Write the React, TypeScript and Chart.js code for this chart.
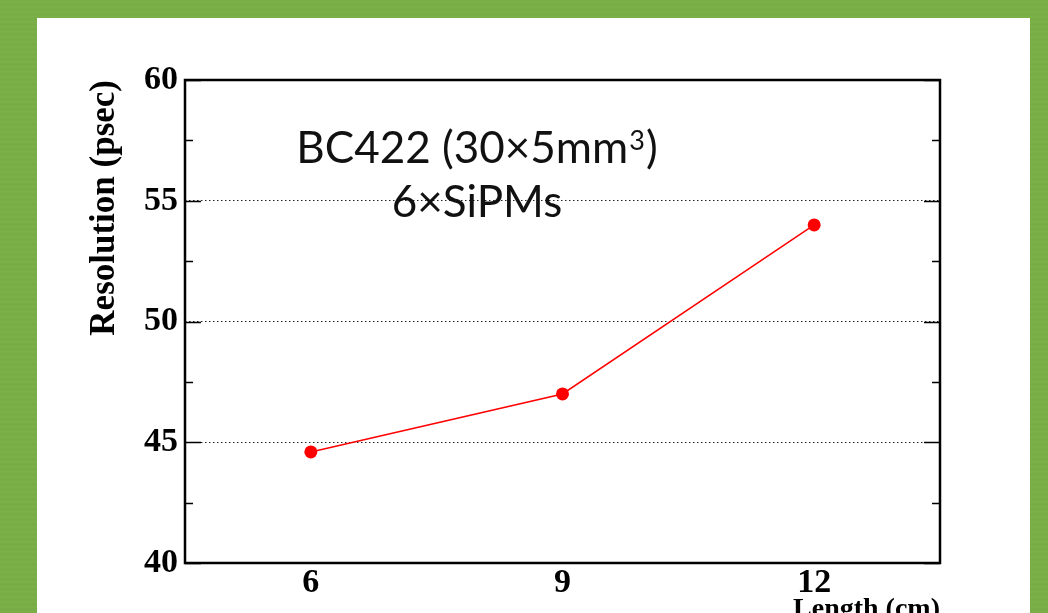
import { useEffect, useRef } from "react";
import { Chart, registerables } from "chart.js";

Chart.register(...registerables);

// Time resolution vs. bar length
const lengths = [6, 9, 12];
const resolutions = [44.6, 47.0, 54.0];

// Axis ticks
const xTickValues = [6, 9, 12];
const yTickValues = [40, 45, 50, 55, 60];
const yMinorTickValues = [42.5, 47.5, 52.5, 57.5];
const yGridValues = [45, 50, 55];

// Text: first line is split so the exponent can be raised
const annotationLine1 = ["BC422 (30×5mm", "3", ")"];
const annotationLine2 = "6×SiPMs";
const xTitle = "Length (cm)";
const yTitle = "Resolution (psec)";

const SERIF = "'Liberation Serif', 'Times New Roman', serif";
const SANS = "Lato, 'Noto Sans', sans-serif";

// Frame around the plot area plus inward tick marks on both vertical sides
const framePlugin = {
  id: "frame",
  beforeDatasetsDraw(chart: any) {
    const { ctx, chartArea } = chart;
    const y = chart.scales.y;
    const { left, right, top, bottom } = chartArea;
    ctx.save();
    ctx.strokeStyle = "#000";
    ctx.lineWidth = 1.5;
    const tick = (v: number, len: number) => {
      const py = Math.round(y.getPixelForValue(v)) + 0.5;
      ctx.beginPath();
      ctx.moveTo(left, py);
      ctx.lineTo(left + len, py);
      ctx.moveTo(right, py);
      ctx.lineTo(right - len, py);
      ctx.stroke();
    };
    yTickValues.forEach((v) => tick(v, 16));
    yMinorTickValues.forEach((v) => tick(v, 8));
    ctx.lineWidth = 2.5;
    ctx.strokeRect(left, top, right - left, bottom - top);
    ctx.restore();
  },
};

// Two-line label inside the plot
const annotationPlugin = {
  id: "annotation",
  afterDraw(chart: any) {
    const { ctx, chartArea } = chart;
    const big = `44px ${SANS}`;
    const small = `27px ${SANS}`;
    ctx.save();
    ctx.fillStyle = "#111";
    ctx.textAlign = "left";
    ctx.textBaseline = "alphabetic";
    const cx = chartArea.left + 292;
    const base1 = chartArea.top + 83;
    const base2 = chartArea.top + 137;

    ctx.font = big;
    const w0 = ctx.measureText(annotationLine1[0]).width;
    const w2 = ctx.measureText(annotationLine1[2]).width;
    ctx.font = small;
    const w1 = ctx.measureText(annotationLine1[1]).width + 2;
    let x = cx - (w0 + w1 + w2) / 2;
    ctx.font = big;
    ctx.fillText(annotationLine1[0], x, base1);
    x += w0;
    ctx.font = small;
    ctx.fillText(annotationLine1[1], x + 1, base1 - 13);
    x += w1;
    ctx.font = big;
    ctx.fillText(annotationLine1[2], x, base1);

    ctx.textAlign = "center";
    ctx.fillText(annotationLine2, cx, base2);
    ctx.restore();
  },
};

export default function App() {
  const canvasRef = useRef<HTMLCanvasElement | null>(null);

  useEffect(() => {
    if (!canvasRef.current) return;
    const chart = new Chart(canvasRef.current, {
      type: "line",
      data: {
        datasets: [
          {
            data: lengths.map((x, i) => ({ x, y: resolutions[i] })),
            borderColor: "#ff0000",
            backgroundColor: "#ff0000",
            borderWidth: 1.5,
            pointRadius: 6.5,
            pointHoverRadius: 6.5,
            pointBorderWidth: 0,
            tension: 0,
          },
        ],
      },
      options: {
        responsive: false,
        animation: false,
        devicePixelRatio: 1,
        layout: { padding: { left: 87, top: 80, right: 108, bottom: 0 } },
        plugins: {
          legend: { display: false },
          tooltip: { enabled: false },
        },
        scales: {
          x: {
            type: "linear",
            min: 4.5,
            max: 13.5,
            afterBuildTicks: (scale: any) => {
              scale.ticks = xTickValues.map((value) => ({ value }));
            },
            afterFit: (scale: any) => {
              scale.height = 77;
            },
            grid: { display: false, drawTicks: false },
            border: { display: false },
            ticks: {
              padding: 3,
              color: "#000",
              font: { family: SERIF, size: 34, weight: "bold", lineHeight: 1 },
              maxRotation: 0,
              callback: (v: any) => String(v),
            },
            title: {
              display: true,
              text: xTitle,
              align: "end",
              color: "#000",
              font: { family: SERIF, size: 28, weight: "bold", lineHeight: 1 },
              padding: { top: 0, bottom: 16 },
            },
          },
          y: {
            type: "linear",
            min: 40,
            max: 60,
            afterBuildTicks: (scale: any) => {
              scale.ticks = yTickValues.map((value) => ({ value }));
            },
            afterFit: (scale: any) => {
              scale.width = 98;
            },
            grid: {
              drawTicks: false,
              lineWidth: 1,
              color: (c: any) =>
                yGridValues.includes(c.tick?.value) ? "#222" : "rgba(0,0,0,0)",
            },
            border: { display: false, dash: [1.5, 2.5] },
            ticks: {
              padding: 7,
              color: "#000",
              font: { family: SERIF, size: 34, weight: "bold", lineHeight: 1 },
              callback: (v: any) => String(v),
            },
            title: {
              display: true,
              text: yTitle,
              align: "end",
              color: "#000",
              font: { family: SERIF, size: 35, weight: "bold", lineHeight: 1 },
              padding: { top: 0, bottom: 0 },
            },
          },
        },
      },
      plugins: [framePlugin, annotationPlugin],
    });
    return () => chart.destroy();
  }, []);

  return (
    <div
      style={{
        position: "fixed",
        left: 0,
        top: 0,
        width: 1048,
        height: 613,
        overflow: "hidden",
        background:
          "repeating-linear-gradient(0deg, #7aaf48 0px, #7cb14a 2px, #76aa44 3px, #7aaf48 5px)",
      }}
    >
      <div
        style={{
          position: "absolute",
          left: 37,
          top: 18,
          width: 993,
          height: 640,
          background: "#fff",
        }}
      />
      <canvas
        ref={canvasRef}
        width={1048}
        height={640}
        style={{ position: "absolute", left: 0, top: 0 }}
      />
    </div>
  );
}
